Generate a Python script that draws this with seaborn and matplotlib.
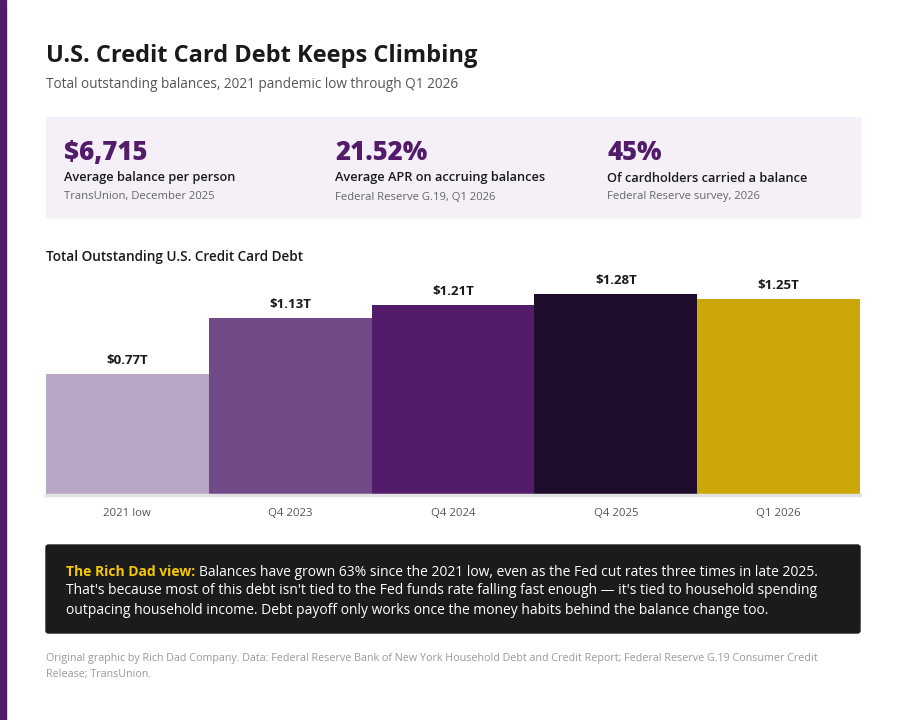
import matplotlib
matplotlib.use("Agg")
import matplotlib.pyplot as plt
from matplotlib.patches import Rectangle, FancyBboxPatch
import seaborn as sns
import pandas as pd

categories = ["2021 low", "Q4 2023", "Q4 2024", "Q4 2025", "Q1 2026"]
values = [0.77, 1.13, 1.21, 1.28, 1.25]
value_labels = ["$0.77T", "$1.13T", "$1.21T", "$1.28T", "$1.25T"]
bar_colors = ["#b9a5c4", "#734a88", "#521c6b", "#200c2c", "#cba808"]

stat_values = ["$6,715", "21.52%", "45%"]
stat_labels = ["Average balance per person", "Average APR on accruing balances",
               "Of cardholders carried a balance"]
stat_sources = ["TransUnion, December 2025", "Federal Reserve G.19, Q1 2026",
                "Federal Reserve survey, 2026"]

FONT = ["Open Sans", "DejaVu Sans"]
sns.set_theme(style="white")
plt.rcParams["font.family"] = FONT

W, H = 900, 720
fig = plt.figure(figsize=(9, 7.2), dpi=100)
fig.patch.set_facecolor("white")

def fx(x):
    return x / W

def fy(y):
    return 1 - y / H

# left accent stripe
fig.patches.append(Rectangle((0, 0), fx(6), 1, transform=fig.transFigure,
                             color="#521c6b", zorder=0))

fig.text(fx(46), fy(56), "U.S. Credit Card Debt Keeps Climbing", fontsize=17,
         fontweight="bold", color="#1a1a1a", va="center")
fig.text(fx(46), fy(84), "Total outstanding balances, 2021 pandemic low through Q1 2026",
         fontsize=9.8, color="#555555", va="center")

# stat box
fig.patches.append(Rectangle((fx(46), fy(217)), fx(814), (217 - 117) / H,
                             transform=fig.transFigure, color="#f5eff7", zorder=0))
for i, x in enumerate([64, 335, 607]):
    fig.text(fx(x), fy(153), stat_values[i], fontsize=18.5, fontweight="heavy",
             color="#521c6b", va="center")
    fig.text(fx(x), fy(178), stat_labels[i], fontsize=9.2, fontweight="semibold",
             color="#1a1a1a", va="center")
    fig.text(fx(x), fy(197), stat_sources[i], fontsize=8.1, color="#666666", va="center")

fig.text(fx(46), fy(257), "Total Outstanding U.S. Credit Card Debt", fontsize=9.8,
         fontweight="semibold", color="#1a1a1a", va="center")

# bar chart
ax = fig.add_axes([fx(46), fy(495), fx(814), (495 - 270) / H])
df = pd.DataFrame({"period": categories, "balance": values})
sns.barplot(data=df, x="period", y="balance", hue="period", palette=bar_colors,
            width=1.0, legend=False, ax=ax, saturation=1, linewidth=0)
ax.set_ylim(0, max(values) * 1.12)
ax.set_xlim(-0.5, len(categories) - 0.5)
for s in ["top", "right", "left"]:
    ax.spines[s].set_visible(False)
ax.spines["bottom"].set_color("#e2e2e2")
ax.spines["bottom"].set_linewidth(2.5)
ax.set_yticks([])
ax.set_xlabel("")
ax.set_ylabel("")
ax.tick_params(axis="x", length=0, pad=9, labelsize=8.2, labelcolor="#555555")
ax.set_facecolor("white")
for i, (v, lab) in enumerate(zip(values, value_labels)):
    ax.annotate(lab, (i, v), xytext=(0, 9.8), textcoords="offset points",
                ha="center", va="center", fontsize=9.5, fontweight="bold",
                color="#1a1a1a")

# dark callout box
fig.patches.append(FancyBboxPatch((fx(46), fy(633)), fx(814), (633 - 545) / H,
                                  boxstyle="round,pad=0,rounding_size=0.003",
                                  transform=fig.transFigure, color="#1b1b1b",
                                  zorder=0))
fig.canvas.draw()
r = fig.canvas.get_renderer()
FS = 10.0
t1 = fig.text(fx(66), fy(572), "The Rich Dad view:", fontsize=FS, fontweight="bold",
              color="#f5c800", va="center")
bb = t1.get_window_extent(renderer=r)
fig.text(bb.x1 / W + fx(4), fy(572),
         "Balances have grown 63% since the 2021 low, even as the Fed cut rates three times in late 2025.",
         fontsize=FS, color="white", va="center")
fig.text(fx(66), fy(591),
         "That's because most of this debt isn't tied to the Fed funds rate falling fast enough \u2014 it's tied to household spending",
         fontsize=FS, color="white", va="center")
fig.text(fx(66), fy(610),
         "outpacing household income. Debt payoff only works once the money habits behind the balance change too.",
         fontsize=FS, color="white", va="center")

fig.text(fx(46), fy(659),
         "Original graphic by Rich Dad Company. Data: Federal Reserve Bank of New York Household Debt and Credit Report; Federal Reserve G.19 Consumer Credit",
         fontsize=7.75, color="#999999", va="center")
fig.text(fx(46), fy(674), "Release; TransUnion.", fontsize=7.75, color="#999999", va="center")

fig.savefig("out.png", dpi=100, facecolor="white")
